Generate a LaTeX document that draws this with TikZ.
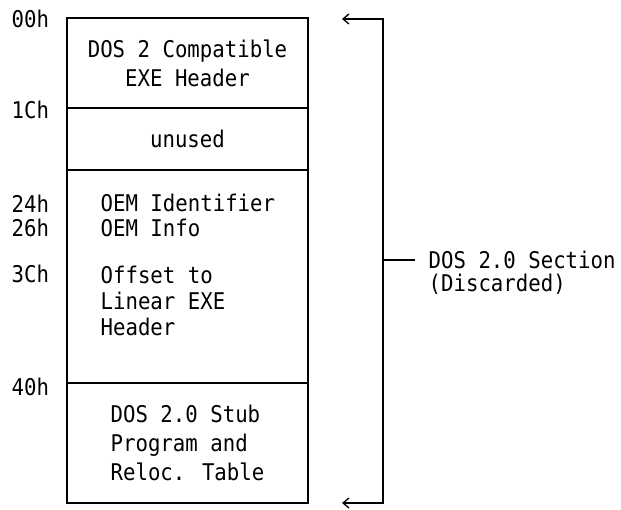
\documentclass[tikz,border=0pt]{standalone}
\usepackage{fontspec}
\usetikzlibrary{arrows.meta}
\newfontfamily\monofont[FakeStretch=0.9]{DejaVu Sans Mono}

\tikzset{
  txt/.style={font=\monofont\fontsize{23}{29}\selectfont, inner sep=0pt},
  seg/.style={draw, txt, minimum width=241pt},
  ofs/.style={txt, anchor=west},
  barb/.tip={Straight Barb[length=6pt, width=10pt]},
}

\begin{document}
\begin{tikzpicture}[x=1pt, y=-1pt, line width=1.3pt]
  \useasboundingbox (0,0) rectangle (621,510);
  % the four segments of the old header
  \node[seg, minimum height=90pt, align=center] (hdr) at (187.5,63)
    {DOS 2 Compatible\\EXE Header};
  \node[seg, minimum height=62pt] (unused) at (187.5,139) {unused};
  \node[seg, minimum height=213pt] (oem) at (187.5,276.5) {};
  \node[seg, minimum height=120pt, align=left] (stub) at (187.5,443)
    {DOS 2.0 Stub\\Program and\\Reloc. Table};
  % fields of the third segment
  \node[ofs] (oemid) at (100,203) {OEM Identifier};
  \node[ofs] (oeminfo) at (100,228) {OEM Info};
  \node[ofs, align=left, font=\monofont\fontsize{23}{26}\selectfont] (lxoff) at (100,301)
    {Offset to\\Linear EXE\\Header};
  % offsets
  \node[ofs] (o00) at (11,19) {00h};
  \node[ofs] (o1c) at (11,110) {1Ch};
  \node[ofs] (o24) at (11,204) {24h};
  \node[ofs] (o26) at (11,228) {26h};
  \node[ofs] (o3c) at (11,274) {3Ch};
  \node[ofs] (o40) at (11,387) {40h};
  % bracket on the right
  \coordinate (tipT) at (342,19);
  \coordinate (cornT) at (383,19);
  \coordinate (cornB) at (383,503);
  \coordinate (tipB) at (342,503);
  \coordinate (brmid) at (383,260);
  \node[ofs] (sect) at (428,260) {DOS 2.0 Section};
  \node[ofs] (disc) at (428,284) {(Discarded)};
  \draw[barb-barb] (tipT) -- (cornT) -- (cornB) -- (tipB);
  \draw (brmid) -- ([xshift=-13pt]sect.west);
\end{tikzpicture}
\end{document}
